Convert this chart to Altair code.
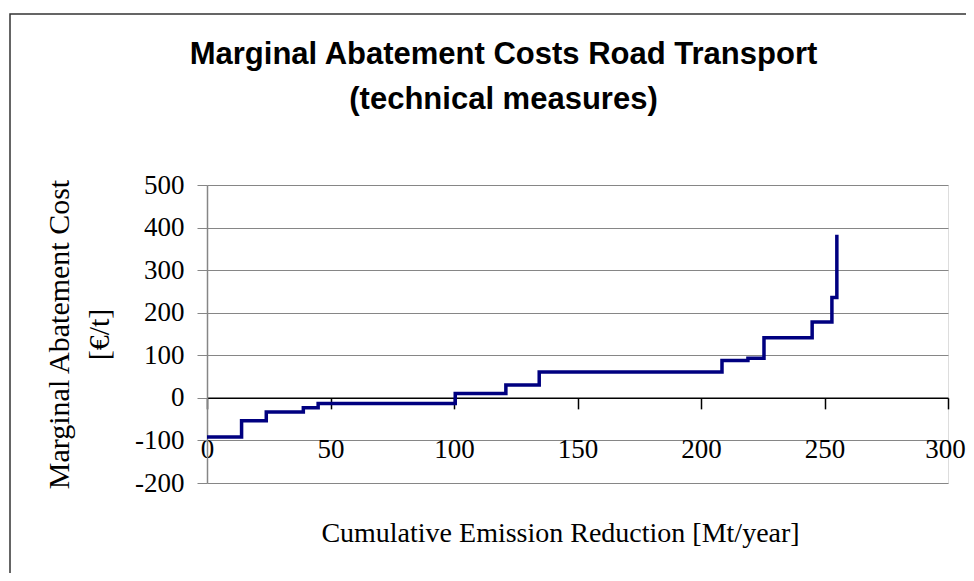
import altair as alt
import pandas as pd

# Step points (start of each abatement measure block)
cum_reduction = [0, 14, 24, 39, 45, 100.5, 121, 134.5, 208.5, 219, 225.5, 245, 253, 255]
marginal_cost = [-92, -54, -33, -23, -13, 10, 30, 61, 88, 93, 141, 178, 236, 383]

x_ticks = [0, 50, 100, 150, 200, 250, 300]
y_ticks = [-200, -100, 0, 100, 200, 300, 400, 500]

title_lines = ["Marginal Abatement Costs Road Transport", "(technical measures)"]
y_title = ["Marginal Abatement Cost", "[€/t]"]
x_title = "Cumulative Emission Reduction [Mt/year]"

df = pd.DataFrame({"x": cum_reduction, "y": marginal_cost})

W, H = 741, 298
y_min, y_max = -200, 500
zero_offset = H * (0 - y_min) / (y_max - y_min)  # distance of y=0 from bottom

SERIF = "Liberation Serif"

x_enc = alt.X(
    "x:Q",
    scale=alt.Scale(domain=[0, 300], nice=False, zero=False),
    axis=alt.Axis(
        values=x_ticks,
        offset=-zero_offset,
        grid=False,
        domainColor="black",
        domainWidth=1.5,
        tickColor="black",
        tickWidth=1.5,
        tickSize=11,
        labelFont=SERIF,
        labelFontSize=27,
        labelColor="black",
        labelPadding=49,
        labelBaseline="alphabetic",
        labelFlush=False,
        labelOverlap=False,
        labelExpr="'' + datum.value",
        labelOffset={"condition": {"test": "datum.value == 300", "value": -3}, "value": 0},
        title=x_title,
        titleFont=SERIF,
        titleFontSize=28,
        titleFontWeight="normal",
        titleColor="black",
        titleX=353,
        titleY=144,
        titleBaseline="alphabetic",
        titleAlign="center",
    ),
)

y_enc = alt.Y(
    "y:Q",
    scale=alt.Scale(domain=[y_min, y_max], nice=False, zero=False),
    axis=alt.Axis(
        values=y_ticks,
        grid=True,
        gridColor="#868686",
        gridWidth=1,
        domainColor="#868686",
        domainWidth=1.5,
        tickColor="#868686",
        tickWidth=1,
        tickSize=10,
        labelFont=SERIF,
        labelFontSize=27,
        labelColor="black",
        labelPadding=13,
        labelFlush=False,
        labelOverlap=False,
        labelExpr="'' + datum.value",
        title=y_title,
        titleFont=SERIF,
        titleFontSize=30,
        titleFontWeight="normal",
        titleColor="black",
        titleAngle=270,
        titleX=-139,
        titleY=H / 2,
        titleBaseline="alphabetic",
        titleAlign="center",
        titleLineHeight=40,
    ),
)

line = alt.Chart(df).mark_line(
    interpolate="step-after", color="#000080", strokeWidth=3.5
).encode(x=x_enc, y=y_enc)

frame = alt.Chart(alt.Data(values=[{"f": 1}])).mark_rect(
    filled=False, stroke="#333333", strokeWidth=1.5, clip=False
).encode(
    x=alt.value(-197), y=alt.value(-171), x2=alt.value(1200), y2=alt.value(1200)
)

chart = alt.layer(frame, line).properties(
    width=W,
    height=H,
    padding={"left": 199, "top": 177, "right": 18, "bottom": 90},
    autosize=alt.AutoSizeParams(type="none"),
    title=alt.Title(
        text=title_lines,
        font="Liberation Sans",
        fontSize=31,
        fontWeight="bold",
        color="black",
        anchor="middle",
        frame="group",
        dx=-74,
        baseline="alphabetic",
        lineHeight=45,
        offset=-127,
    ),
).configure_view(stroke=None).configure(background="white")

chart.save("out.html", embed_options={"renderer": "svg", "actions": False})
